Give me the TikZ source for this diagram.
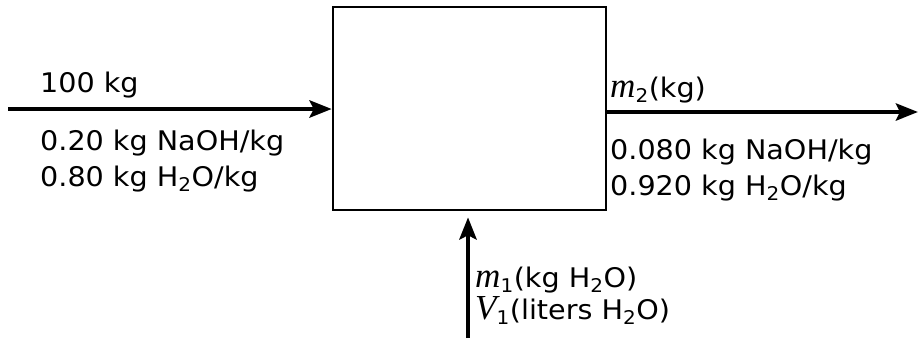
\documentclass[tikz,border=0pt]{standalone}
\usepackage{fontspec}
\setmainfont[FakeStretch=1.06]{DejaVu Sans}
\newfontfamily\varfont[Scale=1.3]{Liberation Serif}
\newcommand{\var}[1]{{\varfont\itshape #1}}
\usetikzlibrary{arrows.meta}
\begin{document}
\begin{tikzpicture}[x=1pt,y=-1pt,
  stream/.style={line width=4.5pt,-{Stealth[length=22pt,width=17pt,inset=4pt]}},
  unit/.style={draw,line width=2.6pt,minimum width=273pt,minimum height=203pt,inner sep=0pt},
  lbl/.style={anchor=base west,inner sep=0pt,font=\fontsize{27}{32}\selectfont}]
\useasboundingbox (0,0) rectangle (920,341);
\node[unit] (box) at (469.5,108.5) {};
\coordinate (in) at (8,109);
\coordinate (out) at (918,112);
\coordinate (wat) at (468,338);
\draw[stream] (in) -- (box.west |- in);
\draw[stream] (box.east |- out) -- (out);
\draw[stream] (wat) -- ([yshift=-6pt]wat |- box.south);
\node[lbl] (f1) at (40,92) {100 kg};
\node[lbl] (f2) at (40,150) {0.20 kg NaOH/kg};
\node[lbl] (f3) at (40,186) {0.80 kg H\textsubscript{2}O/kg};
\node[lbl] (p1) at (610,97) {\var{m}\textsubscript{2}(kg)};
\node[lbl] (p2) at (610,159) {0.080 kg NaOH/kg};
\node[lbl] (p3) at (610,195) {0.920 kg H\textsubscript{2}O/kg};
\node[lbl] (w1) at (475,287) {\var{m}\textsubscript{1}(kg H\textsubscript{2}O)};
\node[lbl] (w2) at (475,319) {\var{V}\textsubscript{1}(liters H\textsubscript{2}O)};
\end{tikzpicture}
\end{document}
